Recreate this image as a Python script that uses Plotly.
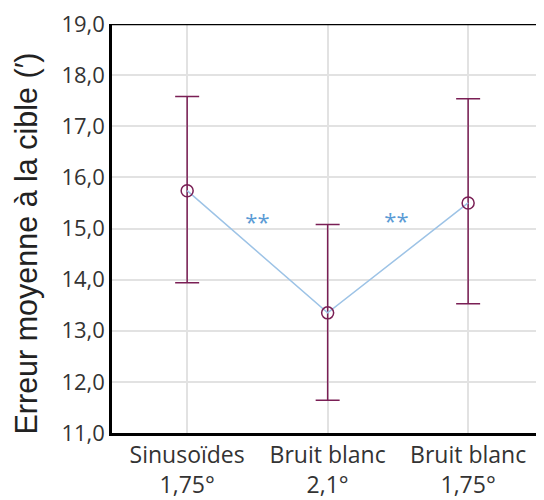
import plotly.graph_objects as go

categories = ["Sinusoïdes<br>1,75°", "Bruit blanc<br>2,1°", "Bruit blanc<br>1,75°"]
means = [15.74, 13.35, 15.50]
upper = [17.58, 15.08, 17.54]
lower = [13.94, 11.64, 13.53]
sig_labels = ["**", "**"]
sig_x = [0.5, 1.49]
sig_y = [15.08, 15.1]
y_ticks = [11, 12, 13, 14, 15, 16, 17, 18, 19]
y_title = "Erreur moyenne à la cible (′)"

xs = list(range(len(categories)))
err_plus = [u - m for u, m in zip(upper, means)]
err_minus = [m - l for m, l in zip(means, lower)]

marker_col = "#7a1f55"
line_col = "#9dc3e6"
font_fam = "Open Sans, Noto Sans, DejaVu Sans, sans-serif"

fig = go.Figure()
fig.add_trace(go.Scatter(
    x=xs, y=means, mode="lines+markers",
    line=dict(color=line_col, width=1.5),
    marker=dict(symbol="circle-open", size=12, color=marker_col, line=dict(width=1.5, color=marker_col)),
    error_y=dict(type="data", symmetric=False, array=err_plus, arrayminus=err_minus,
                 color=marker_col, thickness=1.5, width=12),
    showlegend=False, hoverinfo="skip",
))
fig.add_trace(go.Scatter(
    x=sig_x, y=sig_y, mode="text", text=sig_labels,
    textfont=dict(size=22, color="#5b9bd5", family=font_fam),
    showlegend=False, hoverinfo="skip",
))

fig.add_shape(type="line", xref="paper", yref="y", x0=0, x1=1, y0=19, y1=19,
              line=dict(color="black", width=2.5))

fig.add_annotation(
    text=y_title, xref="paper", yref="paper", x=-0.197, y=0.463,
    xanchor="center", yanchor="middle", textangle=-90, showarrow=False,
    font=dict(family="Liberation Sans, Arial, sans-serif", size=30.5, color="#222222"),
)

fig.update_layout(
    width=536, height=492,
    margin=dict(l=104, r=0, t=16, b=62),
    paper_bgcolor="white", plot_bgcolor="white",
    separators=", ",
    font=dict(family=font_fam, color="#333333", size=22),
    xaxis=dict(
        range=[-0.535, 2.54], tickvals=xs, ticktext=categories,
        showgrid=True, gridcolor="#e2e2e2", gridwidth=1.5,
        showline=True, linecolor="black", linewidth=2.5,
        ticks="", zeroline=False, tickfont=dict(size=23, color="#333333"),
        ticklabeloverflow="allow",
    ),
    yaxis=dict(
        range=[11, 19], tickvals=y_ticks, tickformat=".1f",
        showgrid=True, gridcolor="#e2e2e2", gridwidth=1.5,
        showline=True, linecolor="black", linewidth=2.5,
        ticks="", zeroline=False, tickfont=dict(size=22, color="#333333"),
        ticklabeloverflow="allow",
    ),
)

fig.write_html("out.html")
